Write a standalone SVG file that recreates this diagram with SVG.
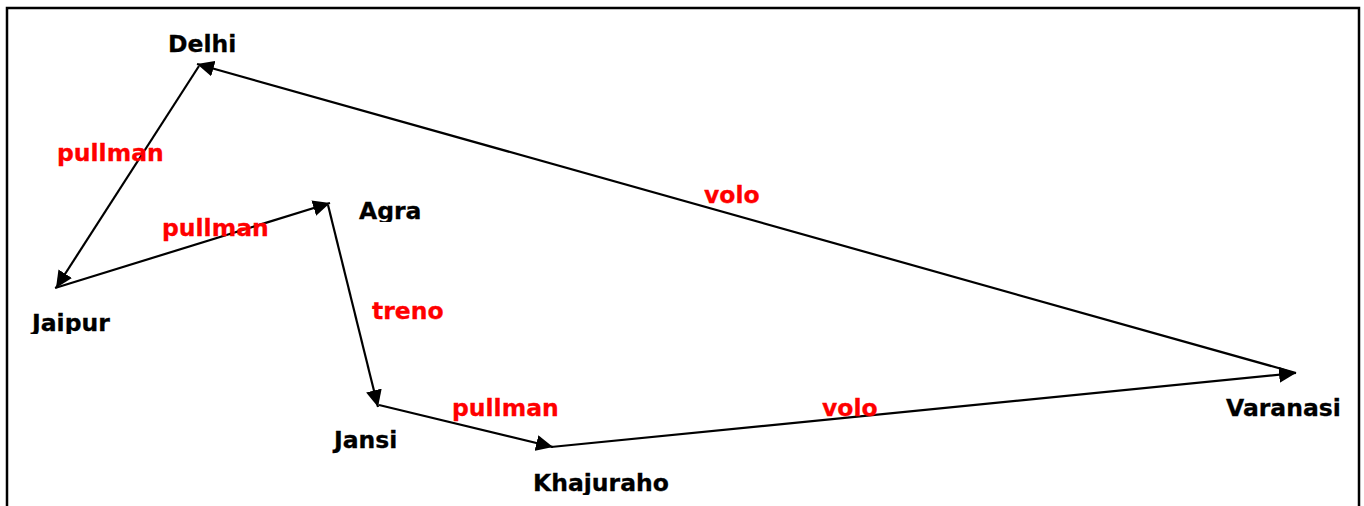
<svg xmlns="http://www.w3.org/2000/svg" width="1364" height="506" viewBox="0 0 1364 506">
<style>
.city{font-family:"DejaVu Sans",Verdana,sans-serif;font-weight:bold;font-size:23.5px;fill:#000;stroke:#000;stroke-width:0.3}
.lbl{font-family:"DejaVu Sans",Verdana,sans-serif;font-weight:bold;font-size:23.5px;fill:#ff0000;stroke:#ff0000;stroke-width:0.3}
.edge{stroke:#000;stroke-width:2.2;fill:none;marker-end:url(#ah)}
</style>
<defs>
<marker id="ah" markerUnits="userSpaceOnUse" markerWidth="18" markerHeight="16" refX="17" refY="8" orient="auto">
<path d="M0,0 L17,8 L0,16 Z" fill="#000"/>
</marker>
<clipPath id="cAgra"><rect x="350" y="190" width="80" height="32"/></clipPath>
<clipPath id="cJaipur"><rect x="20" y="300" width="110" height="34"/></clipPath>
<clipPath id="cKhaj"><rect x="520" y="460" width="170" height="35"/></clipPath>
</defs>
<rect x="7" y="8" width="1352" height="520" fill="#fff" stroke="#000" stroke-width="2.5"/>
<g id="connectors">
<line class="edge" x1="1296" y1="373" x2="197" y2="64"/>
<line class="edge" x1="199" y1="66" x2="56" y2="288"/>
<line class="edge" x1="55" y1="288" x2="330" y2="203"/>
<line class="edge" x1="328" y1="205" x2="378" y2="407"/>
<line class="edge" x1="379" y1="405" x2="553" y2="447"/>
<line class="edge" x1="551" y1="447" x2="1296" y2="373"/>
<text class="lbl" x="57" y="161">pullman</text>
<text class="lbl" x="162" y="236">pullman</text>
<text class="lbl" x="372" y="319">treno</text>
<text class="lbl" x="452" y="416">pullman</text>
<text class="lbl" x="704" y="203">volo</text>
<text class="lbl" x="822" y="416">volo</text>
</g>
<g id="delhi"><text class="city" x="168" y="52">Delhi</text></g>
<g id="agra" clip-path="url(#cAgra)"><text class="city" x="359" y="219">Agra</text></g>
<g id="jaipur" clip-path="url(#cJaipur)"><text class="city" x="32" y="331">Jaipur</text></g>
<g id="jansi"><text class="city" x="334" y="448">Jansi</text></g>
<g id="khajuraho" clip-path="url(#cKhaj)"><text class="city" x="533" y="491">Khajuraho</text></g>
<g id="varanasi"><text class="city" x="1226" y="416">Varanasi</text></g>
</svg>
